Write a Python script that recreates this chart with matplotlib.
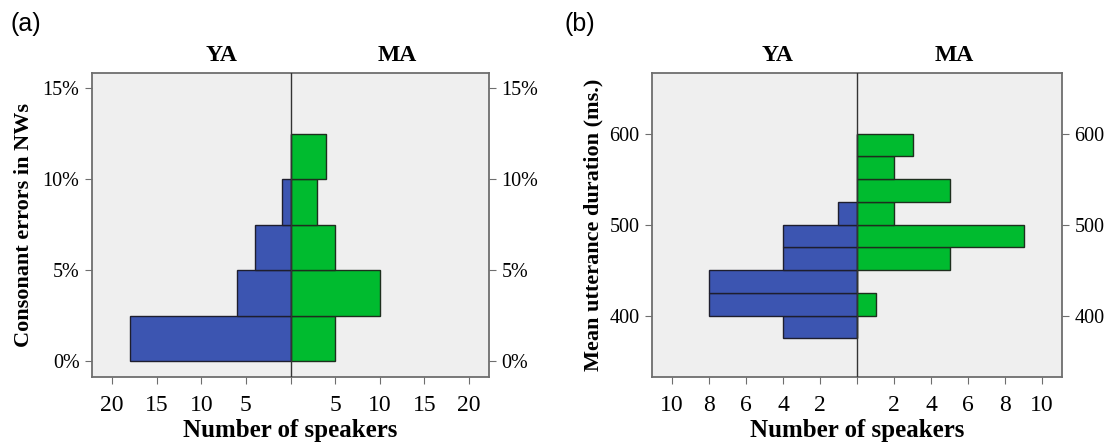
import numpy as np
import matplotlib.pyplot as plt

# panel (a): consonant errors in non-words, 2.5 % bins
err_edges = [0, 2.5, 5, 7.5, 10, 12.5]
err_ya = [18, 6, 4, 1, 0]
err_ma = [5, 10, 5, 3, 4]
err_ticks = [0, 5, 10, 15]
err_ticklabels = ['0%', '5%', '10%', '15%']

# panel (b): mean utterance duration, 25 ms bins
dur_edges = [375, 400, 425, 450, 475, 500, 525, 550, 575, 600]
dur_ya = [4, 8, 8, 4, 4, 1, 0, 0, 0]
dur_ma = [0, 1, 0, 5, 9, 2, 5, 2, 3]
dur_ticks = [400, 500, 600]

blue = '#3c55b1'
green = '#00bb2f'
bg = '#efefef'
frame = '#6e6e6e'

plt.rcParams['font.family'] = ['Liberation Serif', 'DejaVu Serif']

fig = plt.figure(figsize=(11.17, 4.46), dpi=100)
W, H = 1117, 446


def box(l, r, t, b):
    return [l / W, 1 - b / H, (r - l) / W, (b - t) / H]


def pyramid(ax, edges, ya, ma, xlim, xticks, ylim, yticks, yticklabels):
    edges = np.array(edges, dtype=float)
    h = np.diff(edges)
    ax.set_facecolor(bg)
    ax.barh(edges[:-1], -np.array(ya), height=h, align='edge',
            color=blue, edgecolor='#1e1e2e', linewidth=1.0, zorder=2)
    ax.barh(edges[:-1], ma, height=h, align='edge',
            color=green, edgecolor='#1e2e1e', linewidth=1.0, zorder=2)
    ax.axvline(0, color='#333333', linewidth=1.0, zorder=3)
    ax.set_xlim(-xlim, xlim)
    ax.set_ylim(*ylim)
    ax.set_xticks(xticks)
    ax.set_xticklabels(['' if v == 0 else str(abs(v)) for v in xticks], fontsize=17)
    ax.set_yticks(yticks)
    ax.set_yticklabels(yticklabels, fontsize=14.5)
    ax.tick_params(axis='y', right=True, labelright=True, length=5,
                   color=frame, pad=4)
    ax.tick_params(axis='x', length=5, color=frame, pad=8)
    for s in ax.spines.values():
        s.set_color(frame)
        s.set_linewidth(1.3)
    ax.set_xlabel('Number of speakers', fontsize=18, fontweight='bold', labelpad=2)


ax1 = fig.add_axes(box(92, 489, 73, 377))
pyramid(ax1, err_edges, err_ya, err_ma, 22.25, [-20, -15, -10, -5, 0, 5, 10, 15, 20],
        (-0.86, 15.84), err_ticks, err_ticklabels)
ax1.set_ylabel('Consonant errors in NWs', fontsize=16, fontweight='bold', labelpad=6)
ax1.text(0.327, 1.056, 'YA', transform=ax1.transAxes, ha='center', va='center',
         fontsize=17, fontweight='bold')
ax1.text(0.768, 1.056, 'MA', transform=ax1.transAxes, ha='center', va='center',
         fontsize=17, fontweight='bold')

ax2 = fig.add_axes(box(652, 1062, 73, 377))
pyramid(ax2, dur_edges, dur_ya, dur_ma, 11.08, [-10, -8, -6, -4, -2, 0, 2, 4, 6, 8, 10],
        (332.7, 666.5), dur_ticks, [str(v) for v in dur_ticks])
ax2.set_ylabel('Mean utterance duration (ms.)', fontsize=16, fontweight='bold', labelpad=4)
ax2.text(0.307, 1.056, 'YA', transform=ax2.transAxes, ha='center', va='center',
         fontsize=17, fontweight='bold')
ax2.text(0.737, 1.056, 'MA', transform=ax2.transAxes, ha='center', va='center',
         fontsize=17, fontweight='bold')

fig.text(10 / W, 1 - 24 / H, '(a)', fontsize=18, family='Liberation Sans', va='center')
fig.text(565 / W, 1 - 24 / H, '(b)', fontsize=18, family='Liberation Sans', va='center')

fig.savefig('out.png', dpi=100, facecolor='white')
